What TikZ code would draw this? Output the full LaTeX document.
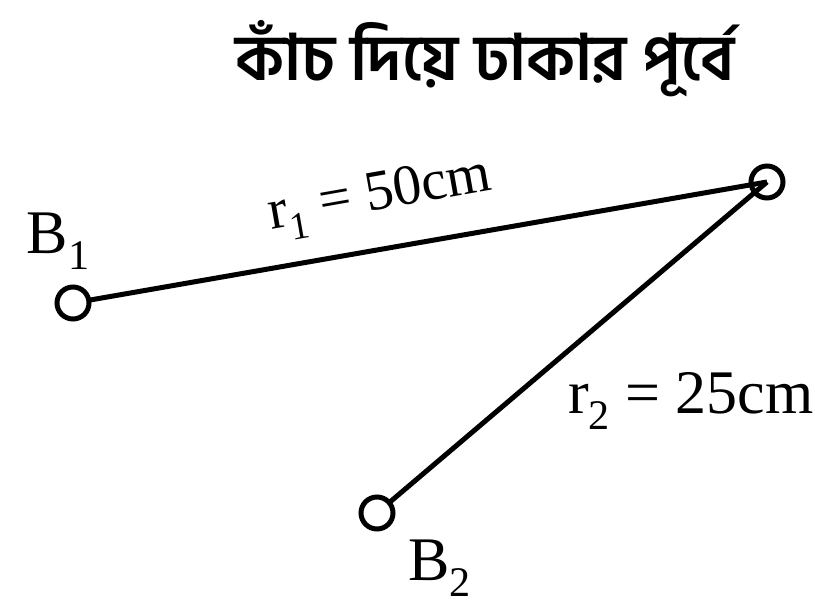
\documentclass[tikz,border=0pt]{standalone}
\usepackage{fontspec}
\setmainfont{Liberation Serif}
\newfontfamily\bnfont[Script=Bengali]{Hind Siliguri}
\newcommand\lowsub[1]{\raisebox{-0.27em}{\scalebox{0.68}{#1}}}
\begin{document}
\begin{tikzpicture}[x=1pt,y=-1pt,
  every node/.style={inner sep=0pt, outer sep=0pt},
  hole/.style={circle, draw, line width=5pt, minimum size=32pt},
  wire/.style={line width=5pt},
  lbl/.style={font=\fontsize{62}{70}\selectfont, anchor=base west},
  title/.style={font=\bnfont\bfseries\fontsize{64}{72}\selectfont, anchor=base}]
\useasboundingbox (0,0) rectangle (815,605);
\node[title] (t) at (485,80) {কাঁচ দিয়ে ঢাকার পূর্বে};
\node[hole] (B1) at (73,303) {};
\node[hole] (P) at (767,182) {};
\node[hole] (B2) at (377,513) {};
\draw[wire] (B1) -- (P.center);
\draw[wire] (B2) -- (P.center);
\node[lbl] (lB1) at (27,253) {B\lowsub{1}};
\node[lbl, font=\fontsize{57}{64}\selectfont, rotate=10] (lr1) at (271,229) {r\lowsub{1} = 50cm};
\node[lbl] (lr2) at (568,413) {r\lowsub{2} = 25cm};
\node[lbl] (lB2) at (408,580) {B\lowsub{2}};
\end{tikzpicture}
\end{document}
